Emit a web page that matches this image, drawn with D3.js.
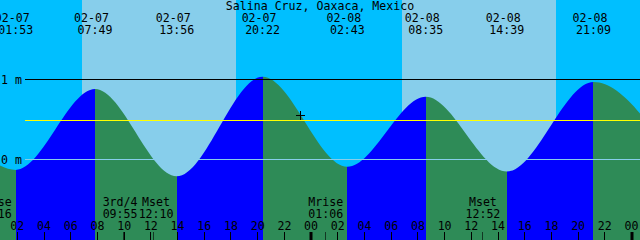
<!DOCTYPE html>
<html><head><meta charset="utf-8">
<script src="https://cdn.jsdelivr.net/npm/d3@7"></script>
<style>
html,body{margin:0;padding:0;background:#fff}
svg{display:block}
text{font-family:"DejaVu Sans Mono",monospace;font-size:11.6px;fill:#000}
</style>
</head><body>
<svg id="c" width="640" height="240"></svg>
<script>
// ---- data ----
const title = "Salina Cruz, Oaxaca, Mexico";
const tideStamps  = ["02-06 19:30","02-07 01:53","02-07 07:49","02-07 13:56","02-07 20:22","02-08 02:43","02-08 08:35","02-08 14:39","02-08 21:09","02-09 03:20"];
const tideHeights = [1.00, -0.13, 0.88, -0.21, 1.035, -0.09, 0.785, -0.15, 0.97, -0.05];
const sunStamps = ["02-07 06:51","02-07 18:23","02-08 06:49","02-08 18:21"];
const sunKinds  = ["rise","set","rise","set"];
const moonStamps = ["02-07 00:16","02-07 09:55","02-07 12:10","02-08 01:06","02-08 12:52"];
const moonLabels = ["Mrise","3rd/4","Mset","Mrise","Mset"];
const datumLevels = [1, 0];
const datumLabels = ["1 m","0 m"];
const meanLevel = 0.49;
const nowStamp = "02-07 23:12";
const nowHeight = 0.56;
const viewStart = "02-07 00:42", viewEnd = "02-09 00:38";

// ---- helpers ----
const W = 640, H = 240, CW = 7;
const C = {night:"#00BFFF", day:"#87CEEB", rise:"#0000FF", fall:"#2E8B57", zero:"#87CEEB", mean:"#FFFF00"};
function hrs(s){ const [d,t]=s.split(" "); const [mo,da]=d.split("-").map(Number); const [h,m]=t.split(":").map(Number); return (da-7)*24+h+m/60; }
const x = d3.scaleLinear().domain([hrs(viewStart), hrs(viewEnd)]).range([0, W]);
const y = d3.scaleLinear().domain([0, 1]).range([159.5, 79.5]);
const svg = d3.select("#c");
const crisp = v => Math.floor(v) + 0.5;

// ---- day / night background ----
const bounds = [x.domain()[0], ...sunStamps.map(hrs), x.domain()[1]];
const bg = [];
for (let i=0;i<bounds.length-1;i++){
  const night = i===0 ? sunKinds[0]==="rise" : sunKinds[i-1]==="set";
  bg.push({a:bounds[i], b:bounds[i+1], c: night?C.night:C.day});
}
svg.append("g").selectAll("rect").data(bg).join("rect")
  .attr("x", d=>x(d.a)).attr("width", d=>x(d.b)-x(d.a))
  .attr("y", 0).attr("height", H).attr("fill", d=>d.c).attr("shape-rendering","crispEdges");

// ---- tide water ----
const tide = tideStamps.map((s,i)=>({t:hrs(s), h:tideHeights[i]}));
const area = d3.area().x(d=>x(d.t)).y0(H).y1(d=>y(d.h)).curve(d3.curveMonotoneX);
svg.append("clipPath").attr("id","water").append("path").attr("d", area(tide));
const segs = d3.pairs(tide).map(([a,b])=>({a:a.t, b:b.t, c: b.h>a.h?C.rise:C.fall}));
svg.append("g").attr("clip-path","url(#water)").selectAll("rect").data(segs).join("rect")
  .attr("x", d=>x(d.a)).attr("width", d=>x(d.b)-x(d.a))
  .attr("y", 0).attr("height", H).attr("fill", d=>d.c).attr("shape-rendering","crispEdges");

// ---- datum lines ----
svg.append("line").attr("x1",25).attr("x2",W).attr("y1",crisp(y(meanLevel))).attr("y2",crisp(y(meanLevel)))
  .attr("stroke",C.mean).attr("stroke-width",1);
datumLevels.forEach((v,i)=>{
  svg.append("line").attr("x1",25).attr("x2",W).attr("y1",crisp(y(v))).attr("y2",crisp(y(v)))
    .attr("stroke", v===0?C.zero:"#000").attr("stroke-width",1);
  svg.append("text").attr("x",1).attr("y",crisp(y(v))+4).text(datumLabels[i]);
});

// ---- title & extreme labels ----
svg.append("text").attr("x",W/2).attr("y",10).attr("text-anchor","middle").text(title);
const topLabels = svg.append("g").attr("text-anchor","middle");
tideStamps.forEach(s=>{
  const [d,t] = s.split(" ");
  const cx = x(hrs(s));
  topLabels.append("text").attr("x",cx-3.5).attr("y",22).text(d);
  topLabels.append("text").attr("x",cx).attr("y",34).text(t);
});

// ---- now marker ----
const nx = Math.round(x(hrs(nowStamp)))+0.5, ny = Math.round(y(nowHeight))+0.5;
svg.append("path").attr("d",`M${nx-4.5},${ny}H${nx+4.5}M${nx},${ny-4.5}V${ny+4.5}`)
  .attr("stroke","#000").attr("stroke-width",1).attr("fill","none");

// ---- hour ticks ----
const [t0,t1] = x.domain();
const hours = d3.range(Math.ceil(t0/2)*2, t1, 2);
const ax = svg.append("g");
hours.forEach(h=>{
  const hx = x(h);
  const hh = ((h%24)+24)%24;
  if (hh===0) ax.append("rect").attr("x",Math.round(hx)-1.5).attr("width",3).attr("y",232).attr("height",8).attr("fill","#000");
  else ax.append("line").attr("x1",crisp(hx)).attr("x2",crisp(hx)).attr("y1",232).attr("y2",240).attr("stroke","#000");
  ax.append("text").attr("x",hx).attr("y",230).attr("text-anchor","middle").text(d3.format("02d")(hh));
});

// ---- moon events ----
const moon = moonStamps.map((s,i)=>({t:hrs(s), label:moonLabels[i], time:s.split(" ")[1]}));
moon.forEach(m=>{ m.cx = x(m.t); m.w = Math.max(m.label.length, m.time.length)*CW; });
for (let i=0;i<moon.length-1;i++){
  const a=moon[i], b=moon[i+1], need=(a.w+b.w)/2+1;
  if (b.cx-a.cx < need){ const s=(need-(b.cx-a.cx))/2; a.cx-=s; b.cx+=s; }
}
moon.forEach(m=>{
  ax.append("line").attr("x1",crisp(x(m.t))).attr("x2",crisp(x(m.t))).attr("y1",232).attr("y2",240)
    .attr("stroke","#000").attr("stroke-opacity",0.6);
  ax.append("text").attr("x",m.cx).attr("y",206).attr("text-anchor","middle").text(m.label);
  ax.append("text").attr("x",m.cx).attr("y",218).attr("text-anchor","middle").text(m.time);
});
</script>
</body></html>
